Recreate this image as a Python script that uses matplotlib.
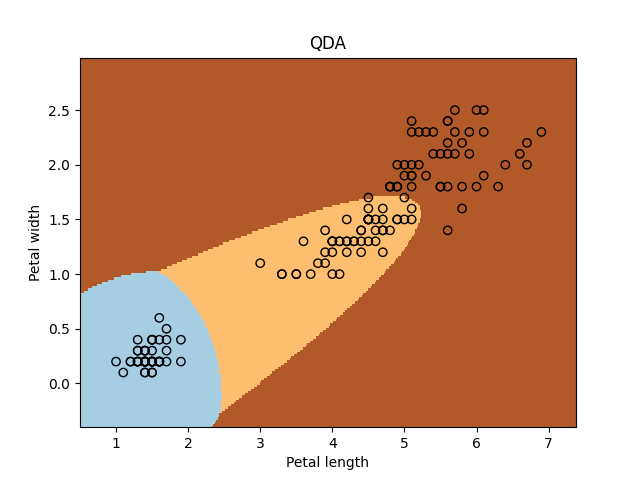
import numpy as np
import matplotlib
matplotlib.use("Agg")
import matplotlib.pyplot as plt

# ── iris petal measurements (setosa, versicolor, virginica) ───────────────────
petal_length = [
    1.4, 1.4, 1.3, 1.5, 1.4, 1.7, 1.4, 1.5, 1.4, 1.5,
    1.5, 1.6, 1.4, 1.1, 1.2, 1.5, 1.3, 1.4, 1.7, 1.5,
    1.7, 1.5, 1.0, 1.7, 1.9, 1.6, 1.6, 1.5, 1.4, 1.6,
    1.6, 1.5, 1.5, 1.4, 1.5, 1.2, 1.3, 1.4, 1.3, 1.5,
    1.3, 1.3, 1.3, 1.6, 1.9, 1.4, 1.6, 1.4, 1.5, 1.4,
    4.7, 4.5, 4.9, 4.0, 4.6, 4.5, 4.7, 3.3, 4.6, 3.9,
    3.5, 4.2, 4.0, 4.7, 3.6, 4.4, 4.5, 4.1, 4.5, 3.9,
    4.8, 4.0, 4.9, 4.7, 4.3, 4.4, 4.8, 5.0, 4.5, 3.5,
    3.8, 3.7, 3.9, 5.1, 4.5, 4.5, 4.7, 4.4, 4.1, 4.0,
    4.4, 4.6, 4.0, 3.3, 4.2, 4.2, 4.2, 4.3, 3.0, 4.1,
    6.0, 5.1, 5.9, 5.6, 5.8, 6.6, 4.5, 6.3, 5.8, 6.1,
    5.1, 5.3, 5.5, 5.0, 5.1, 5.3, 5.5, 6.7, 6.9, 5.0,
    5.7, 4.9, 6.7, 4.9, 5.7, 6.0, 4.8, 4.9, 5.6, 5.8,
    6.1, 6.4, 5.6, 5.1, 5.6, 6.1, 5.6, 5.5, 4.8, 5.4,
    5.6, 5.1, 5.1, 5.9, 5.7, 5.2, 5.0, 5.2, 5.4, 5.1,
]
petal_width = [
    0.2, 0.2, 0.2, 0.2, 0.2, 0.4, 0.3, 0.2, 0.2, 0.1,
    0.2, 0.2, 0.1, 0.1, 0.2, 0.4, 0.4, 0.3, 0.3, 0.3,
    0.2, 0.4, 0.2, 0.5, 0.2, 0.2, 0.4, 0.2, 0.2, 0.2,
    0.2, 0.4, 0.1, 0.2, 0.2, 0.2, 0.2, 0.1, 0.2, 0.2,
    0.3, 0.3, 0.2, 0.6, 0.4, 0.3, 0.2, 0.2, 0.2, 0.2,
    1.4, 1.5, 1.5, 1.3, 1.5, 1.3, 1.6, 1.0, 1.3, 1.4,
    1.0, 1.5, 1.0, 1.4, 1.3, 1.4, 1.5, 1.0, 1.5, 1.1,
    1.8, 1.3, 1.5, 1.2, 1.3, 1.4, 1.4, 1.7, 1.5, 1.0,
    1.1, 1.0, 1.2, 1.6, 1.5, 1.6, 1.5, 1.3, 1.3, 1.3,
    1.2, 1.4, 1.2, 1.0, 1.3, 1.2, 1.3, 1.3, 1.1, 1.3,
    2.5, 1.9, 2.1, 1.8, 2.2, 2.1, 1.7, 1.8, 1.8, 2.5,
    2.0, 1.9, 2.1, 2.0, 2.4, 2.3, 1.8, 2.2, 2.3, 1.5,
    2.3, 2.0, 2.0, 1.8, 2.1, 1.8, 1.8, 1.8, 2.1, 1.6,
    1.9, 2.0, 2.2, 1.5, 1.4, 2.3, 2.4, 1.8, 1.8, 2.1,
    2.4, 2.3, 1.9, 2.3, 2.5, 2.3, 1.9, 2.0, 2.3, 1.8,
]
species = [0] * 50 + [1] * 50 + [2] * 50


# ── quadratic discriminant analysis (equal priors, unbiased covariances) ──────
def fit_qda(X, y):
    params = []
    for k in np.unique(y):
        Xk = X[y == k]
        mu = Xk.mean(axis=0)
        cov = np.cov(Xk, rowvar=False)
        params.append((mu, np.linalg.inv(cov), np.log(np.linalg.det(cov))))
    return params


def predict_qda(params, P):
    scores = []
    for mu, icov, logdet in params:
        d = P - mu
        scores.append(-0.5 * logdet - 0.5 * np.einsum("ij,jk,ik->i", d, icov, d))
    return np.argmax(np.vstack(scores), axis=0)


X = np.column_stack([petal_length, petal_width])
y = np.array(species)
params = fit_qda(X, y)

h = 0.02
x_min, x_max = X[:, 0].min() - .5, X[:, 0].max() + .5
y_min, y_max = X[:, 1].min() - .5, X[:, 1].max() + .5
xx, yy = np.meshgrid(np.arange(x_min, x_max, h), np.arange(y_min, y_max, h))
Z = predict_qda(params, np.c_[xx.ravel(), yy.ravel()]).reshape(xx.shape)

fig, ax = plt.subplots(figsize=(6.4, 4.8), dpi=100)
ax.pcolormesh(xx, yy, Z, cmap=plt.cm.Paired, shading="auto")
ax.scatter(X[:, 0], X[:, 1], facecolors="none", edgecolors="k")
ax.set_xlim(xx.min(), xx.max())
ax.set_ylim(yy.min(), yy.max())
ax.set_xlabel("Petal length")
ax.set_ylabel("Petal width")
ax.set_title("QDA")

fig.savefig("out.png", dpi=100)
